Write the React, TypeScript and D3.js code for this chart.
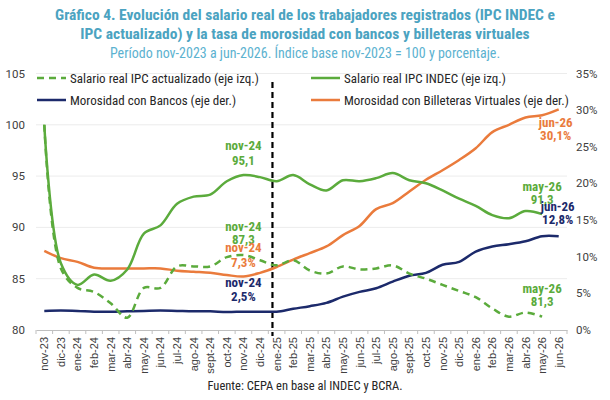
import { useRef, useEffect } from 'react';
import * as d3 from 'd3';

const months = [
  'nov-23', 'dic-23', 'ene-24', 'feb-24', 'mar-24', 'abr-24', 'may-24', 'jun-24',
  'jul-24', 'ago-24', 'sept-24', 'oct-24', 'nov-24', 'dic-24', 'ene-25', 'feb-25',
  'mar-25', 'abr-25', 'may-25', 'jun-25', 'jul-25', 'ago-25', 'sept-25', 'oct-25',
  'nov-25', 'dic-25', 'ene-26', 'feb-26', 'mar-26', 'abr-26', 'may-26', 'jun-26',
];

// Salario real IPC INDEC (eje izq.), hasta may-26
const salarioIndec = [
  100, 86.5, 84.4, 85.4, 84.8, 85.9, 89.4, 90.2, 92.3, 93.0, 93.2, 94.5, 95.1, 94.9, 94.5, 95.1,
  94.2, 93.6, 94.6, 94.5, 94.8, 95.3, 94.6, 94.3, 93.6, 92.8, 92.1, 91.2, 90.9, 91.6, 91.3,
];

// Salario real IPC actualizado (eje izq.), hasta may-26
const salarioActualizado = [
  100, 86.0, 84.1, 83.7, 82.6, 81.2, 84.1, 84.1, 86.2, 86.2, 86.2, 87.1, 87.3, 86.8, 86.3, 86.8,
  85.8, 85.5, 86.2, 85.9, 86.0, 86.3, 85.5, 85.0, 84.4, 83.8, 83.2, 82.1, 81.3, 81.7, 81.3,
];

// Morosidad con Bancos (%, eje der.)
const morosidadBancos = [
  2.6, 2.65, 2.6, 2.5, 2.5, 2.55, 2.6, 2.65, 2.6, 2.55, 2.55, 2.45, 2.5, 2.5, 2.5, 2.9,
  3.25, 3.7, 4.55, 5.2, 5.7, 6.6, 7.4, 7.8, 8.9, 9.3, 10.7, 11.4, 11.7, 12.1, 12.8, 12.8,
];

// Morosidad con Billeteras Virtuales (%, eje der.)
const morosidadBilleteras = [
  10.8, 9.8, 9.3, 8.5, 8.4, 8.4, 8.4, 8.4, 8.1, 7.95, 7.8, 7.5, 7.3, 7.8, 8.6, 9.6,
  10.5, 11.4, 12.95, 14.2, 16.5, 17.3, 18.9, 20.5, 21.8, 23.2, 24.8, 27.0, 28.0, 29.0, 29.3, 30.1,
];

const leftTicks = [80, 85, 90, 95, 100, 105];
const rightTicks = [0, 5, 10, 15, 20, 25, 30, 35];

const GREEN = '#5bab3c';
const ORANGE = '#ea7b3c';
const NAVY = '#1c2a6b';
const FONT = "'Roboto Condensed', 'Liberation Sans Narrow', 'DejaVu Sans Condensed', Roboto, sans-serif";

const App = () => {
  const svgRef = useRef<SVGSVGElement>(null);

  useEffect(() => {
    if (!svgRef.current) return;
    const width = 610;
    const height = 400;
    const margin = { top: 73.5, right: 43, bottom: 70, left: 36 };

    const svg = d3.select(svgRef.current).attr('width', width).attr('height', height);
    svg.selectAll('*').remove();
    svg.style('font-family', FONT);

    const x = d3
      .scaleBand<string>()
      .domain(months)
      .range([margin.left, width - margin.right])
      .padding(0);
    const cx = (m: string) => (x(m) as number) + x.bandwidth() / 2;

    const yL = d3.scaleLinear().domain([80, 105]).range([height - margin.bottom, margin.top]);
    const yR = d3.scaleLinear().domain([0, 35]).range([height - margin.bottom, margin.top]);

    // grid
    svg
      .append('g')
      .selectAll('line')
      .data(leftTicks.filter((t) => t > 80))
      .enter()
      .append('line')
      .attr('x1', margin.left)
      .attr('x2', width - margin.right)
      .attr('y1', (d) => yL(d))
      .attr('y2', (d) => yL(d))
      .attr('stroke', '#ececec')
      .attr('stroke-width', 1);

    // left axis labels
    svg
      .append('g')
      .selectAll('text')
      .data(leftTicks)
      .enter()
      .append('text')
      .attr('x', 25)
      .attr('y', (d) => yL(d))
      .attr('dy', '0.35em')
      .attr('text-anchor', 'end')
      .attr('font-family', 'Roboto, sans-serif')
      .attr('font-size', 11.5)
      .attr('fill', '#404040')
      .text((d) => d);

    // right axis labels
    svg
      .append('g')
      .selectAll('text')
      .data(rightTicks)
      .enter()
      .append('text')
      .attr('x', 576)
      .attr('y', (d) => yR(d))
      .attr('dy', '0.35em')
      .attr('text-anchor', 'start')
      .attr('font-family', 'Roboto, sans-serif')
      .attr('font-size', 11.5)
      .attr('fill', '#404040')
      .text((d) => `${d}%`);

    // x axis
    const xAxis = svg
      .append('g')
      .attr('transform', `translate(0, ${yL(80)})`)
      .call(
        d3
          .axisBottom(x)
          .tickSize(0)
          .tickFormat(() => ''),
      );
    xAxis.select('.domain').attr('stroke', '#bfbfbf');
    xAxis.selectAll('.tick').remove();
    xAxis
      .selectAll('line.sep')
      .data(months.concat(['end']))
      .enter()
      .append('line')
      .attr('class', 'sep')
      .attr('x1', (d, i) => margin.left + i * x.step())
      .attr('x2', (d, i) => margin.left + i * x.step())
      .attr('y1', 0)
      .attr('y2', 4)
      .attr('stroke', '#bfbfbf');

    svg
      .append('g')
      .selectAll('text')
      .data(months)
      .enter()
      .append('text')
      .attr('transform', (d) => `translate(${cx(d) + 4}, ${yL(80) + 7}) rotate(-90)`)
      .attr('text-anchor', 'end')
      .attr('font-family', "'Liberation Sans', Arial, sans-serif")
      .attr('font-size', 11)
      .attr('fill', '#404040')
      .text((d) => d);

    // vertical dashed separator (between dic-24 y ene-25)
    const sepX = cx('dic-24') + x.step() * 0.75;
    svg
      .append('line')
      .attr('x1', sepX)
      .attr('x2', sepX)
      .attr('y1', 82)
      .attr('y2', yL(80) + 6)
      .attr('stroke', '#000')
      .attr('stroke-width', 2.2)
      .attr('stroke-dasharray', '6,4');

    const curve = d3.curveCatmullRom.alpha(0.5);
    const lineL = d3
      .line<number>()
      .x((d, i) => cx(months[i]))
      .y((d) => yL(d))
      .curve(curve);
    const lineR = d3
      .line<number>()
      .x((d, i) => cx(months[i]))
      .y((d) => yR(d))
      .curve(curve);

    const series = [
      { data: morosidadBancos, line: lineR, color: NAVY, dash: null },
      { data: morosidadBilleteras, line: lineR, color: ORANGE, dash: null },
      { data: salarioActualizado, line: lineL, color: GREEN, dash: '7,5' },
      { data: salarioIndec, line: lineL, color: GREEN, dash: null },
    ];

    series.forEach((s) => {
      svg
        .append('path')
        .datum(s.data)
        .attr('d', s.line)
        .attr('fill', 'none')
        .attr('stroke', s.color)
        .attr('stroke-width', 2.5)
        .attr('stroke-dasharray', s.dash);
    });

    // annotations
    const notes = [
      { m: 'nov-24', y: yL(95.1), dy1: -25, dy2: -10, t1: 'nov-24', t2: '95,1', c: GREEN, dx: 0 },
      { m: 'nov-24', y: yL(87.3), dy1: -24.5, dy2: -11, t1: 'nov-24', t2: '87,3', c: GREEN, dx: 0 },
      { m: 'nov-24', y: yR(7.3), dy1: -24.5, dy2: -10, t1: 'nov-24', t2: '7,3%', c: ORANGE, dx: 0 },
      { m: 'nov-24', y: yR(2.5), dy1: -25, dy2: -11, t1: 'nov-24', t2: '2,5%', c: NAVY, dx: 0 },
      { m: 'jun-26', y: yR(30.1), dy1: 18, dy2: 31, t1: 'jun-26', t2: '30,1%', c: ORANGE, dx: -3 },
      { m: 'may-26', y: yL(91.3), dy1: -23.5, dy2: -10.5, t1: 'may-26', t2: '91,3', c: GREEN, dx: 0 },
      { m: 'jun-26', y: yR(12.8), dy1: -24.7, dy2: -11.7, t1: 'jun-26', t2: '12,8%', c: NAVY, dx: -1 },
      { m: 'may-26', y: yL(81.3), dy1: -24, dy2: -10.7, t1: 'may-26', t2: '81,3', c: GREEN, dx: 0 },
    ];
    const ann = svg.append('g').attr('font-weight', 'bold').attr('font-size', 13).attr('text-anchor', 'middle');
    notes.forEach((n) => {
      ann
        .append('text')
        .attr('x', cx(n.m) + n.dx)
        .attr('y', n.y + n.dy1)
        .attr('fill', n.c)
        .text(n.t1);
      ann
        .append('text')
        .attr('x', cx(n.m) + n.dx)
        .attr('y', n.y + n.dy2)
        .attr('fill', n.c)
        .text(n.t2);
    });

    // legend
    const legendItems = [
      { label: 'Salario real IPC actualizado (eje izq.)', color: GREEN, dash: '7,5', lx: 37, ly: 78 },
      { label: 'Salario real IPC INDEC (eje izq.)', color: GREEN, dash: null, lx: 311, ly: 78 },
      { label: 'Morosidad con Bancos (eje der.)', color: NAVY, dash: null, lx: 37, ly: 100 },
      { label: 'Morosidad con Billeteras Virtuales (eje der.)', color: ORANGE, dash: null, lx: 311, ly: 100 },
    ];
    const legend = svg
      .append('g')
      .selectAll('g')
      .data(legendItems)
      .enter()
      .append('g')
      .attr('transform', (d) => `translate(${d.lx}, ${d.ly})`);
    legend
      .append('line')
      .attr('x1', 0)
      .attr('x2', 29)
      .attr('stroke', (d) => d.color)
      .attr('stroke-width', 2.5)
      .attr('stroke-dasharray', (d) => d.dash);
    legend
      .append('text')
      .attr('x', 33)
      .attr('dy', '0.35em')
      .attr('font-size', 13)
      .attr('fill', '#262626')
      .text((d) => d.label);

    // title
    const title = svg.append('g').attr('text-anchor', 'middle');
    title
      .append('text')
      .attr('x', 305)
      .attr('y', 20)
      .attr('font-size', 15.5)
      .attr('font-weight', 'bold')
      .attr('fill', '#4ba3c1')
      .text('Gráfico 4. Evolución del salario real de los trabajadores registrados (IPC INDEC e');
    title
      .append('text')
      .attr('x', 305)
      .attr('y', 39)
      .attr('font-size', 15.5)
      .attr('font-weight', 'bold')
      .attr('fill', '#4ba3c1')
      .text('IPC actualizado) y la tasa de morosidad con bancos y billeteras virtuales');
    title
      .append('text')
      .attr('x', 305)
      .attr('y', 58)
      .attr('font-size', 14)
      .attr('fill', '#5cb2d0')
      .text('Período nov-2023 a jun-2026. Índice base nov-2023 = 100 y porcentaje.');

    svg
      .append('text')
      .attr('x', 305)
      .attr('y', 390)
      .attr('text-anchor', 'middle')
      .attr('font-size', 12.5)
      .attr('fill', '#262626')
      .text('Fuente: CEPA en base al INDEC y BCRA.');
  }, []);

  return (
    <svg
      ref={svgRef}
      style={{ position: 'absolute', left: 0, top: 0, background: '#fff' }}
    ></svg>
  );
};

export default App;
